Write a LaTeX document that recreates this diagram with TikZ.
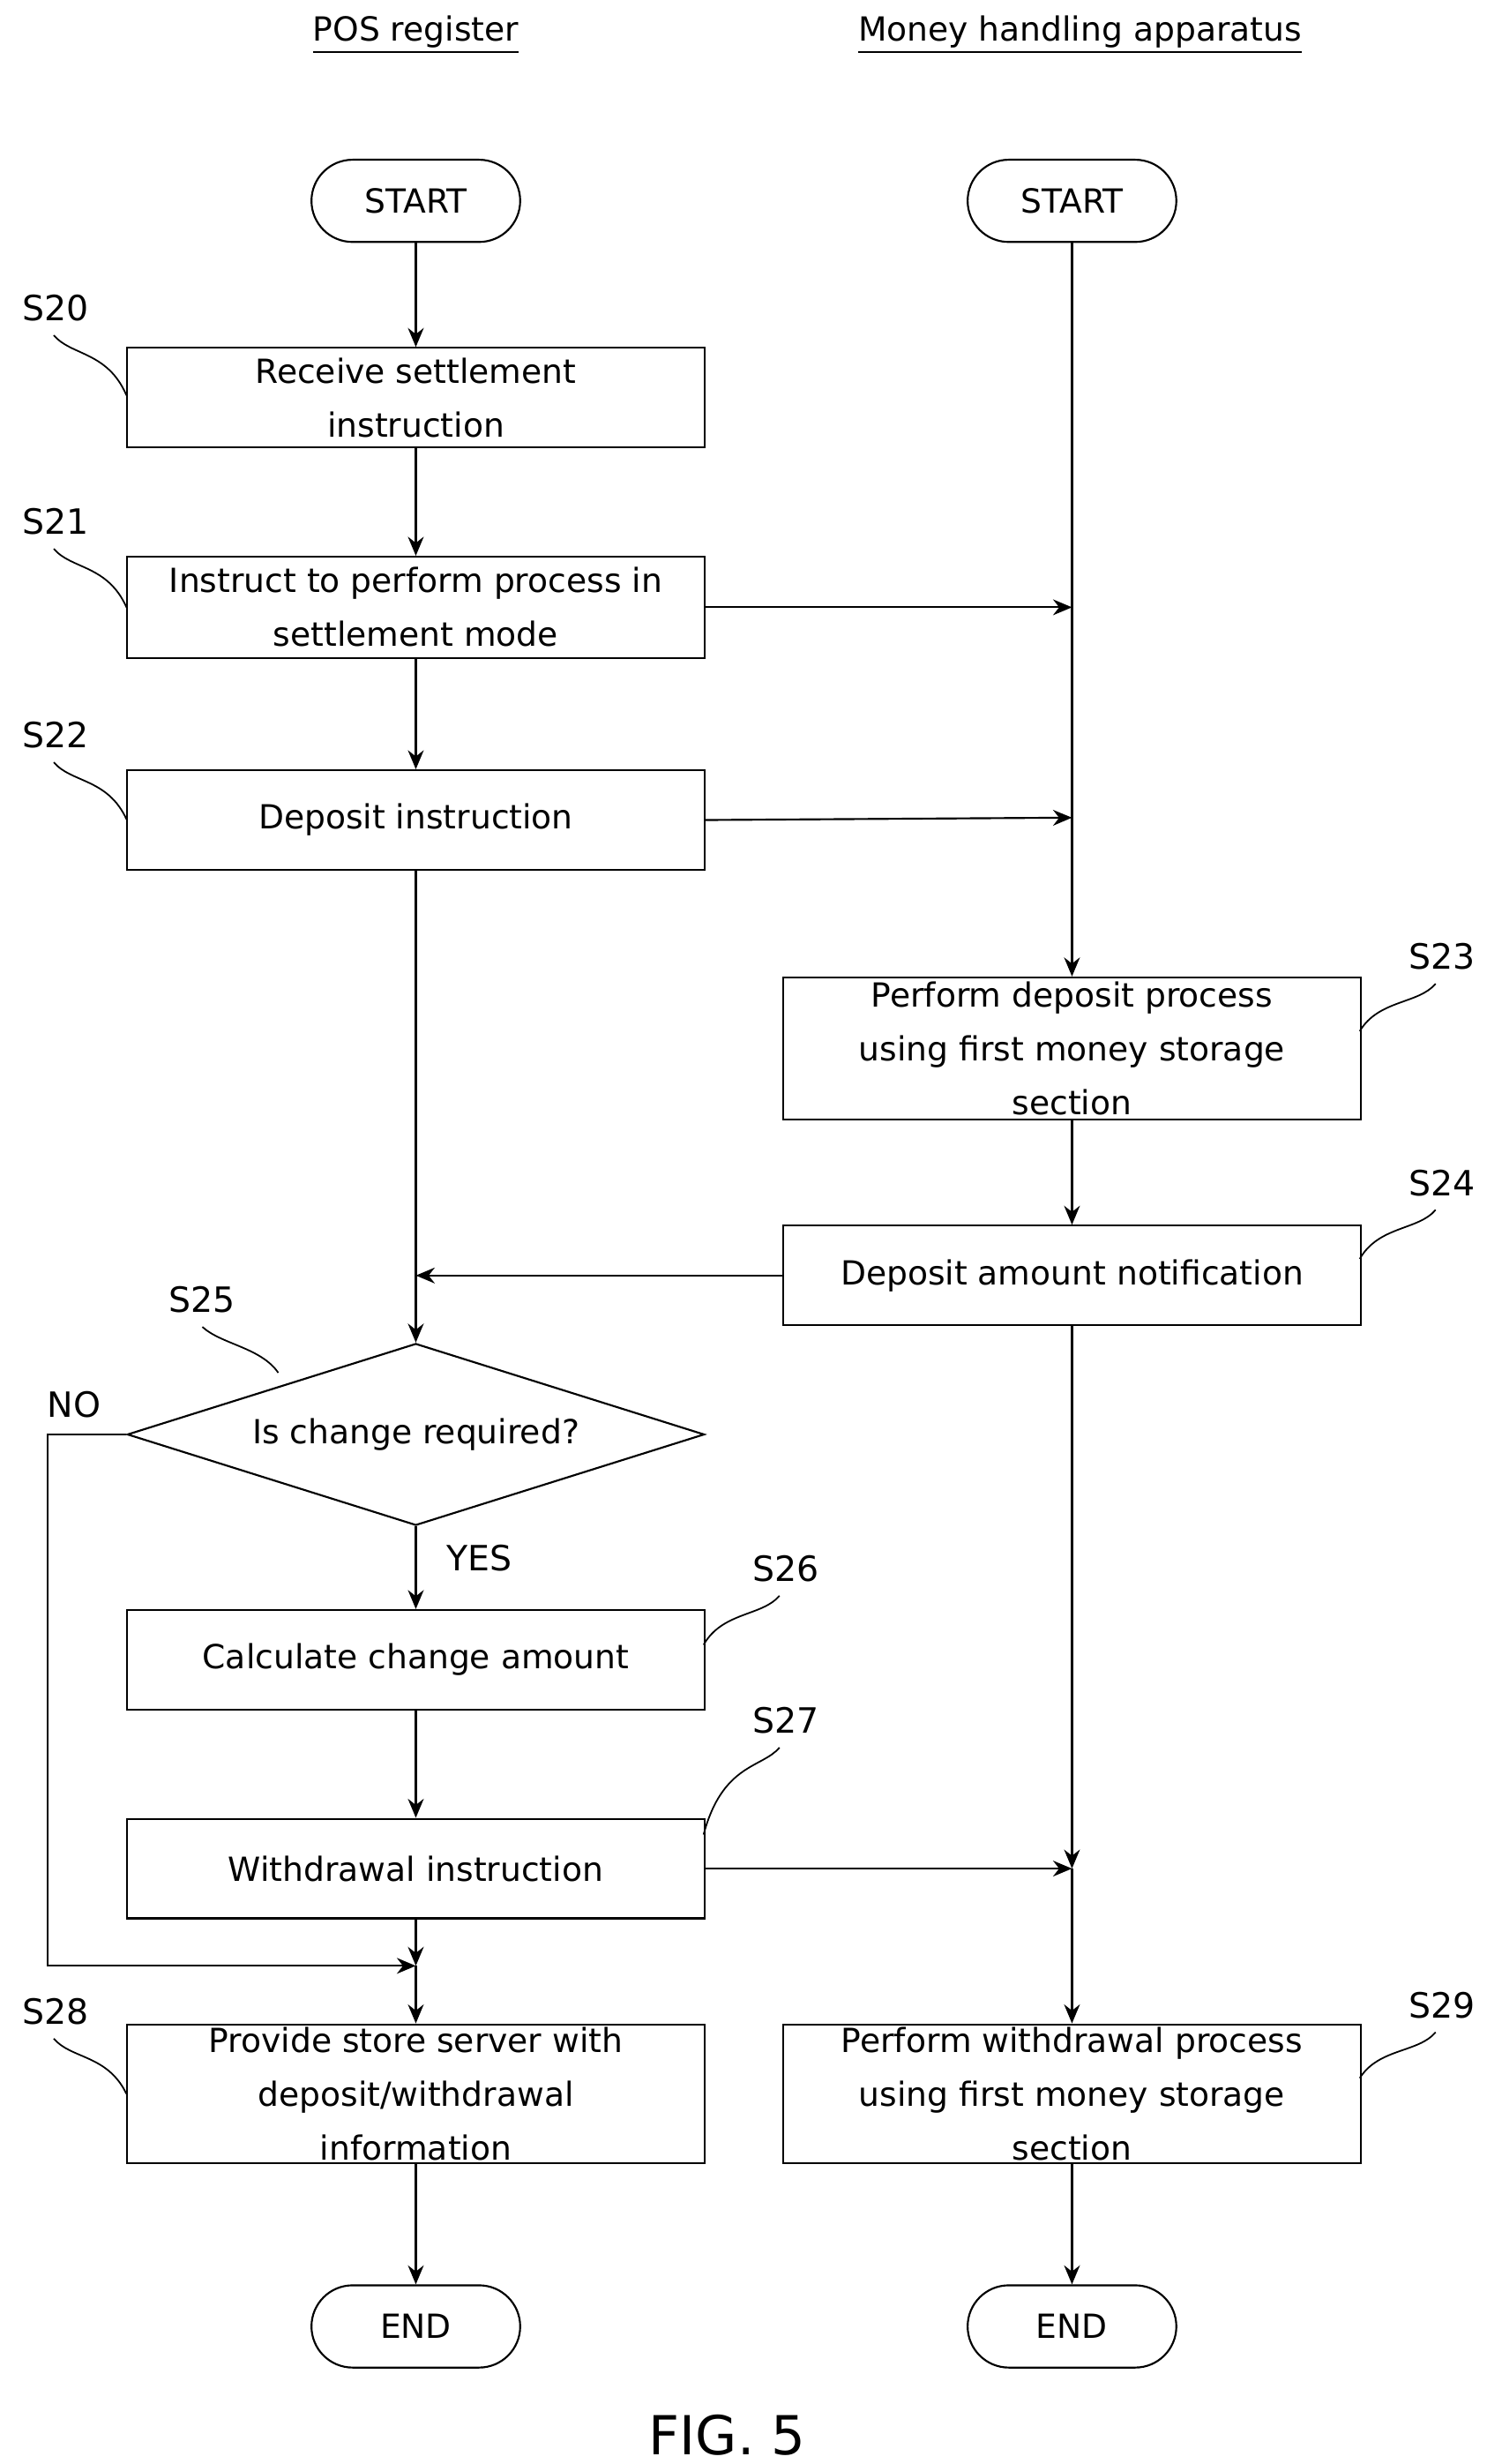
\documentclass[tikz,border=0pt]{standalone}
\usepackage{fontspec}
\setmainfont{DejaVu Sans}
\usetikzlibrary{shapes.geometric,arrows.meta}
\begin{document}
\begin{tikzpicture}[x=0.5pt,y=-0.5pt,
  every node/.style={font=\fontsize{10.5}{17}\selectfont},
  box/.style={draw,line width=0.6pt,minimum width=182.5pt,align=center,inner sep=0pt},
  pill/.style={draw,line width=0.6pt,rounded corners=13pt,minimum width=66pt,minimum height=26pt,inner sep=0pt},
  dia/.style={draw,line width=0.6pt,diamond,aspect=3.17,minimum width=182.5pt,minimum height=57.5pt,inner sep=0pt},
  lab/.style={font=\fontsize{11}{13}\selectfont},
  ar/.style={line width=0.6pt,-{Stealth[length=6pt,width=5pt]}},
  ln/.style={line width=0.6pt},
  cv/.style={line width=0.5pt}]
\useasboundingbox (0,0) rectangle (940,1558);
\node (h1) at (263,22) {\underline{POS register}};
\node (h2) at (683,22) {\underline{Money handling apparatus}};
\node[pill] (st1) at (263,127) {START};
\node[pill] (st2) at (678,127) {START};
\node[box,minimum height=31.5pt] (s20) at (263,251.5) {Receive settlement\\instruction};
\node[box,minimum height=32pt] (s21) at (263,384) {Instruct to perform process in\\settlement mode};
\node[box,minimum height=31.5pt] (s22) at (263,518.5) {Deposit instruction};
\node[box,minimum height=45pt] (s23) at (678,663) {Perform deposit process\\using first money storage\\section};
\node[box,minimum height=31.5pt] (s24) at (678,806.5) {Deposit amount notification};
\node[dia] (s25) at (263,907) {Is change required?};
\node[box,minimum height=31.5pt] (s26) at (263,1049.5) {Calculate change amount};
\node[box,minimum height=31.5pt] (s27) at (263,1181.5) {Withdrawal instruction};
\node[box,minimum height=44pt] (s28) at (263,1324) {Provide store server with\\deposit/withdrawal\\information};
\node[box,minimum height=44pt] (s29) at (678,1324) {Perform withdrawal process\\using first money storage\\section};
\node[pill] (e1) at (263,1471) {END};
\node[pill] (e2) at (678,1471) {END};
\node[font=\fontsize{17}{20}\selectfont] (fig) at (460,1540) {FIG. 5};
% coordinates
\coordinate (r21) at (678,384);
\coordinate (r22) at (678,517);
\coordinate (l24) at (263,806.5);
\coordinate (r27) at (678,1181.5);
\coordinate (lno) at (263,1243);
\coordinate (c1) at (30,907);
\coordinate (c2) at (30,1243);
% arrows
\draw[ar] (st1) -- (s20);
\draw[ar] (s20) -- (s21);
\draw[ar] (s21) -- (s22);
\draw[ar] (s22) -- (s25.north);
\draw[ar] (s25.south) -- (s26);
\draw[ar] (s26) -- (s27);
\draw[ar] (s27) -- (lno);
\draw[ar] (lno) -- (s28);
\draw[ar] (s28) -- (e1);
\draw[ar] (st2) -- (s23);
\draw[ar] (s23) -- (s24);
\draw[ar] (s24) -- (r27);
\draw[ar] (r27) -- (s29);
\draw[ar] (s29) -- (e2);
\draw[ar] (s21.east) -- (r21);
\draw[ar] (s22.east) -- (r22);
\draw[ar] (s24.west) -- (l24);
\draw[ar] (s27.east) -- (r27);
\draw[ar] (s25.west) -- (c1) -- (c2) -- (lno);
\node[lab] (no) at (47,888) {NO};
\node[lab] (yes) at (303,985) {YES};
% step labels
\node[lab] (t20) at (35,195) {S20};
\node[lab] (t21) at (35,330) {S21};
\node[lab] (t22) at (35,465) {S22};
\node[lab] (t23) at (912,605) {S23};
\node[lab] (t24) at (912,748) {S24};
\node[lab] (t25) at (128,822) {S25};
\node[lab] (t26) at (497,992) {S26};
\node[lab] (t27) at (497,1088) {S27};
\node[lab] (t28) at (35,1272) {S28};
\node[lab] (t29) at (912,1268) {S29};
\draw[cv] (34,212) .. controls (45,225) and (68,222) .. (80,250);
\draw[cv] (34,347) .. controls (45,360) and (68,357) .. (80,384);
\draw[cv] (34,482) .. controls (45,495) and (68,492) .. (80,518);
\draw[cv] (34,1289) .. controls (45,1302) and (68,1299) .. (80,1324);
\draw[cv] (908,622) .. controls (897,635) and (872,632) .. (860,652);
\draw[cv] (908,765) .. controls (897,778) and (872,775) .. (860,796);
\draw[cv] (908,1285) .. controls (897,1298) and (872,1295) .. (860,1314);
\draw[cv] (493,1009) .. controls (482,1022) and (457,1019) .. (445,1040);
\draw[cv] (493,1105) .. controls (482,1118) and (457,1115) .. (445,1160);
\draw[cv] (128,839) .. controls (140,850) and (165,852) .. (176,868);
\end{tikzpicture}
\end{document}
